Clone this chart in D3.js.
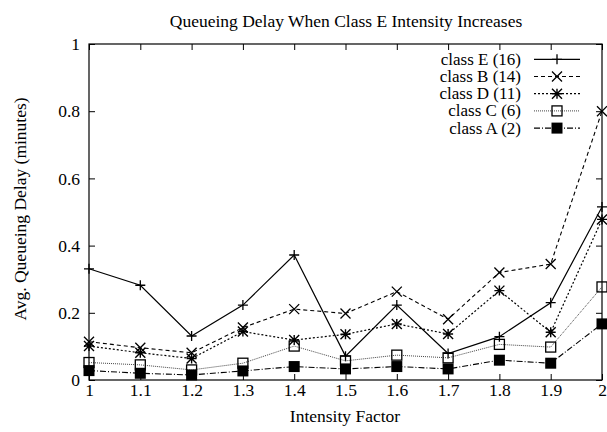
<!DOCTYPE html>
<html>
<head>
<script src="https://d3js.org/d3.v7.min.js"></script>
<style>
  body { margin: 0; background: #fff; }
  text { font-family: "Liberation Serif", "DejaVu Serif", serif; fill: #000; }
</style>
</head>
<body>
<svg width="607" height="432"></svg>
<script>
const intensity = [1, 1.1, 1.2, 1.3, 1.4, 1.5, 1.6, 1.7, 1.8, 1.9, 2];
const classE = [0.331, 0.282, 0.131, 0.223, 0.372, 0.071, 0.223, 0.079, 0.129, 0.230, 0.515];
const classB = [0.114, 0.096, 0.081, 0.156, 0.211, 0.198, 0.263, 0.181, 0.320, 0.345, 0.800];
const classD = [0.101, 0.081, 0.064, 0.144, 0.119, 0.136, 0.167, 0.137, 0.266, 0.142, 0.478];
const classC = [0.052, 0.045, 0.030, 0.050, 0.101, 0.057, 0.074, 0.066, 0.106, 0.098, 0.277];
const classA = [0.028, 0.020, 0.015, 0.027, 0.040, 0.033, 0.040, 0.033, 0.059, 0.050, 0.167];
const yTicks = [0, 0.2, 0.4, 0.6, 0.8, 1];
const seriesNames = ["class E (16)", "class B (14)", "class D (11)", "class C (6)", "class A (2)"];

const svg = d3.select("svg");
const mLeft = 89, mRight = 602, mTop = 44, mBottom = 380;

const x = d3.scaleLinear().domain([1, 2]).range([mLeft, mRight]);
const y = d3.scaleLinear().domain([0, 1]).range([mBottom, mTop]);

// title
svg.append("text").attr("x", 346).attr("y", 27).attr("text-anchor", "middle")
  .style("font-size", "17.5px").text("Queueing Delay When Class E Intensity Increases");

// axes with inward ticks (gnuplot style, mirrored)
svg.append("g").attr("transform", `translate(0,${mBottom})`)
  .call(d3.axisBottom(x).tickValues(intensity).tickSize(-6).tickPadding(4).tickFormat(d3.format("~g")));
svg.append("g").attr("transform", `translate(0,${mTop})`)
  .call(d3.axisTop(x).tickValues(intensity).tickSize(-6).tickFormat(""));
svg.append("g").attr("transform", `translate(${mLeft},0)`)
  .call(d3.axisLeft(y).tickValues(yTicks).tickSize(-6).tickPadding(9).tickFormat(d3.format("~g")));
svg.append("g").attr("transform", `translate(${mRight},0)`)
  .call(d3.axisRight(y).tickValues(yTicks).tickSize(-6).tickFormat(""));

svg.selectAll(".domain").remove();
svg.selectAll(".tick line").attr("stroke", "#000");
svg.selectAll(".tick text").style("font-size", "17.5px").style("font-family", "Liberation Serif, serif");

svg.append("rect").attr("x", mLeft).attr("y", mTop).attr("width", mRight - mLeft).attr("height", mBottom - mTop)
  .attr("fill", "none").attr("stroke", "#000").attr("stroke-width", 1.2);

// axis titles
svg.append("text").attr("x", 345).attr("y", 422).attr("text-anchor", "middle")
  .style("font-size", "17.5px").text("Intensity Factor");
svg.append("text").attr("transform", "translate(26,209) rotate(-90)").attr("text-anchor", "middle")
  .style("font-size", "17.5px").text("Avg. Queueing Delay (minutes)");

// series definitions
const series = [
  { name: seriesNames[0], values: classE, dash: null, width: 1.2, color: "#000", marker: "plus" },
  { name: seriesNames[1], values: classB, dash: "4,3", width: 1.1, color: "#000", marker: "cross" },
  { name: seriesNames[2], values: classD, dash: "2,2", width: 1.2, color: "#000", marker: "star" },
  { name: seriesNames[3], values: classC, dash: "1,1", width: 1, color: "#444", marker: "box" },
  { name: seriesNames[4], values: classA, dash: "6,2,1,2", width: 1.1, color: "#000", marker: "fbox" }
];

function drawMarker(g, type, cx, cy) {
  const s = 5;
  if (type === "plus") {
    g.append("path").attr("d", `M${cx - s},${cy}H${cx + s}M${cx},${cy - s}V${cy + s}`)
      .attr("stroke", "#000").attr("stroke-width", 1.3);
  } else if (type === "cross") {
    g.append("path").attr("d", `M${cx - s},${cy - s}L${cx + s},${cy + s}M${cx - s},${cy + s}L${cx + s},${cy - s}`)
      .attr("stroke", "#000").attr("stroke-width", 1.3);
  } else if (type === "star") {
    g.append("path").attr("d", `M${cx - s},${cy}H${cx + s}M${cx},${cy - s}V${cy + s}M${cx - s},${cy - s}L${cx + s},${cy + s}M${cx - s},${cy + s}L${cx + s},${cy - s}`)
      .attr("stroke", "#000").attr("stroke-width", 1.4);
  } else if (type === "box") {
    g.append("rect").attr("x", cx - 5).attr("y", cy - 5).attr("width", 10).attr("height", 10)
      .attr("fill", "none").attr("stroke", "#000").attr("stroke-width", 1.3);
  } else if (type === "fbox") {
    g.append("rect").attr("x", cx - 5.5).attr("y", cy - 5.5).attr("width", 11).attr("height", 11)
      .attr("fill", "#000");
  }
}

const line = d3.line().x((d, i) => x(intensity[i])).y(d => y(d));

series.forEach(s => {
  const g = svg.append("g");
  g.append("path").datum(s.values).attr("d", line)
    .attr("fill", "none").attr("stroke", s.color).attr("stroke-width", s.width)
    .attr("stroke-dasharray", s.dash);
  s.values.forEach((v, i) => drawMarker(g, s.marker, x(intensity[i]), y(v)));
});

// legend
const legend = svg.append("g");
series.forEach((s, i) => {
  const ly = 59.3 + i * 17.2;
  legend.append("text").attr("x", 521).attr("y", ly + 5.5).attr("text-anchor", "end")
    .style("font-size", "17px").text(s.name);
  legend.append("line").attr("x1", 534).attr("x2", 580).attr("y1", ly).attr("y2", ly)
    .attr("stroke", s.color).attr("stroke-width", s.width).attr("stroke-dasharray", s.dash);
  drawMarker(legend, s.marker, 557, ly);
});
</script>
</body>
</html>
